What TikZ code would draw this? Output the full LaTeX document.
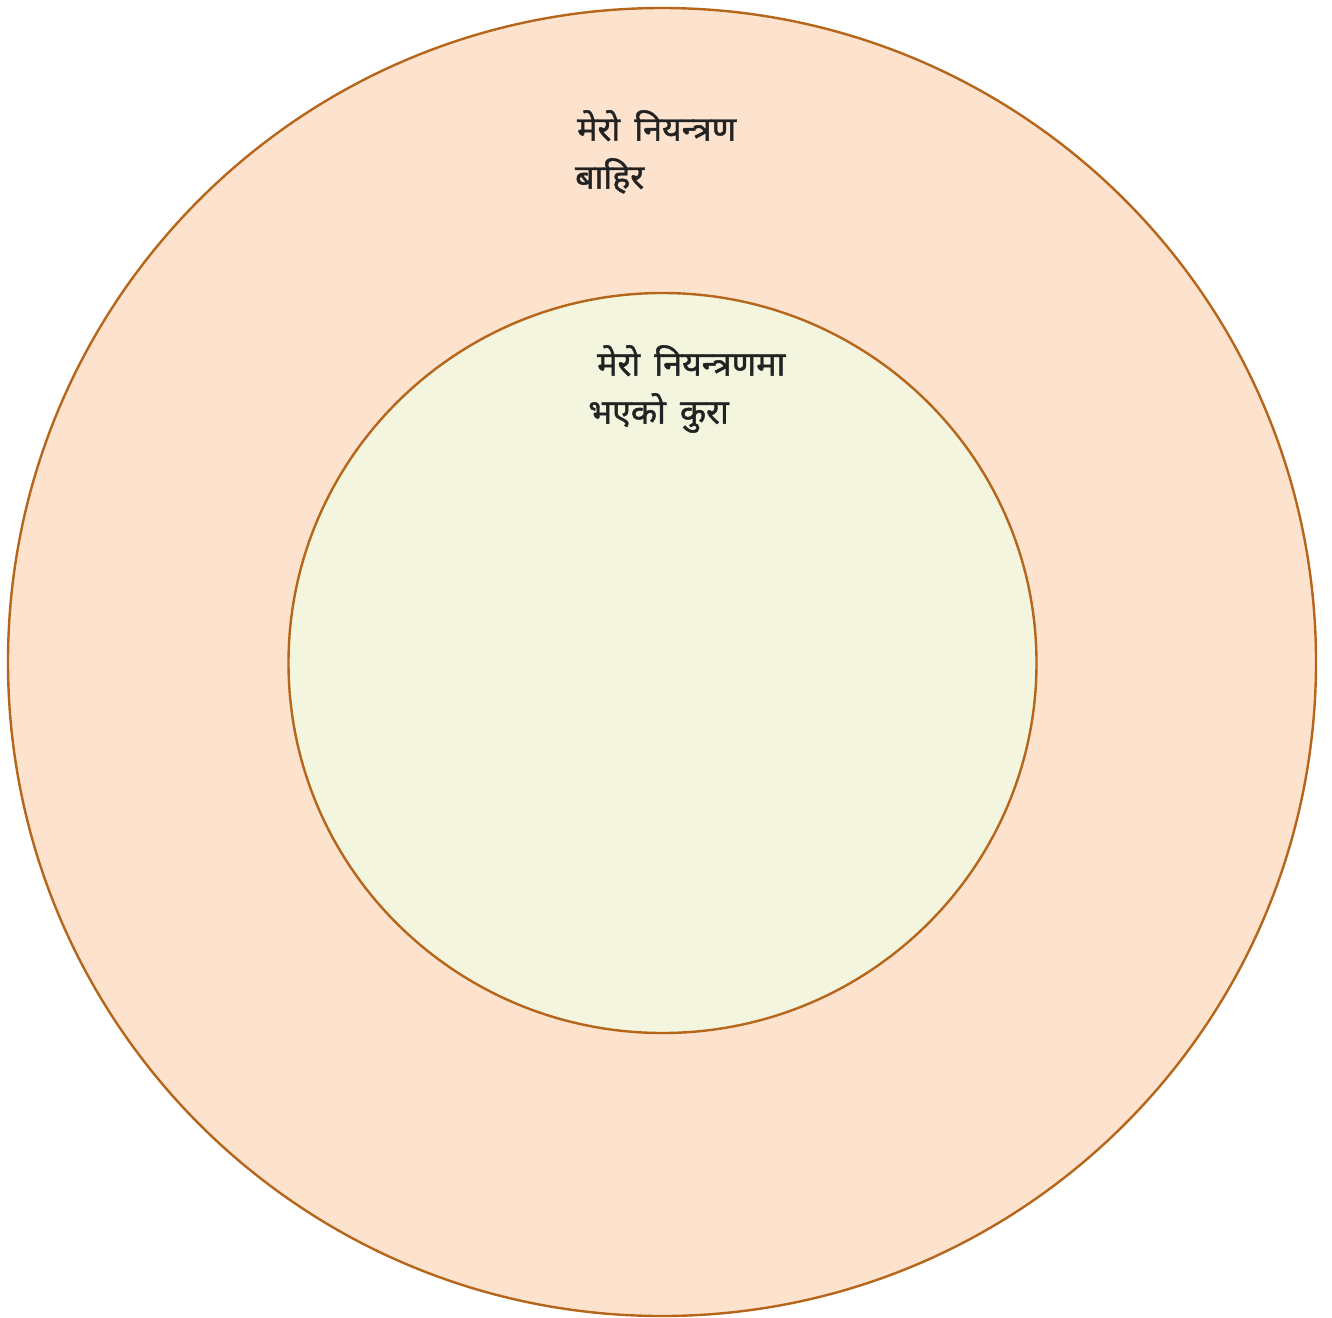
\documentclass[tikz,border=0pt]{standalone}
\usepackage{fontspec}
\usetikzlibrary{shapes.geometric}
\newfontfamily\deva[Script=Devanagari, FakeBold=1.3, WordSpace=1.6]{Noto Sans}
\definecolor{outerfill}{HTML}{FDE3CD}
\definecolor{innerfill}{HTML}{F3F5DF}
\definecolor{ringline}{HTML}{B5661A}
\definecolor{txt}{HTML}{222222}
\tikzset{
  ring/.style={draw=ringline, line width=2.4pt, inner sep=0pt},
  lbl/.style={anchor=north west, align=left, inner sep=0pt, text=txt,
    font=\deva\fontsize{34}{48}\selectfont}
}
\begin{document}
\begin{tikzpicture}[x=1pt,y=-1pt]
\useasboundingbox (0,0) rectangle (1332,1317);
\node[ring, circle, fill=outerfill, minimum size=1308pt] (outer) at (662,662) {};
\node[ring, ellipse, fill=innerfill, minimum width=748pt, minimum height=740pt] (inner) at (662.5,663) {};
\node[lbl] (outerlbl) at (575,110) {\hspace*{2pt}मेरो नियन्त्रण\\बाहिर};
\node[lbl] (innerlbl) at (588,345) {\hspace*{9pt}मेरो नियन्त्रणमा\\भएको कुरा};
\end{tikzpicture}
\end{document}
